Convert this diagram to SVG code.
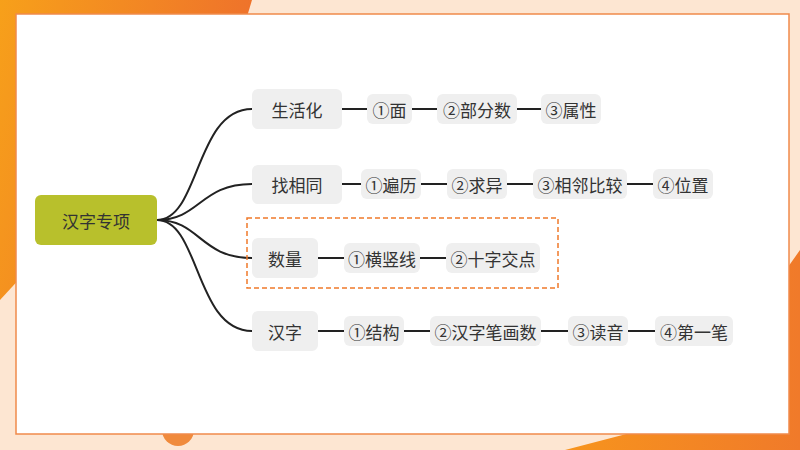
<svg xmlns="http://www.w3.org/2000/svg" width="800" height="450" viewBox="0 0 800 450">
<defs>
<linearGradient id="g1" x1="0" y1="0" x2="1" y2="0.3"><stop offset="0" stop-color="#f7a01a"/><stop offset="1" stop-color="#ee6f2c"/></linearGradient>
<linearGradient id="g2" x1="0" y1="0" x2="1" y2="0"><stop offset="0" stop-color="#f7941d"/><stop offset="1" stop-color="#f07a2a"/></linearGradient>
<style>
.n{fill:#efefef}
.t{font-family:"Noto Sans CJK SC","Noto Sans",sans-serif;font-size:17px;fill:#333;text-anchor:middle;dominant-baseline:central}
.c{fill:none;stroke:#222;stroke-width:2}
</style>
</defs>
<rect width="800" height="450" fill="#fde6d2"/>
<polygon points="0,0 252,0 240,40 0,300" fill="url(#g1)"/>
<polygon points="565,450 800,450 800,250 680,420" fill="url(#g2)"/>
<circle cx="178" cy="430" r="16" fill="#f08a3c"/>
<rect x="16" y="14" width="773" height="420" fill="#fff" stroke="#f08a4b" stroke-width="1.5"/>
<g id="connectors" class="c">
<path d="M157,220 C200,220 195,109 252,109"/>
<path d="M157,220 C200,220 200,184 252,184"/>
<path d="M157,220 C200,220 200,258 252,258"/>
<path d="M157,220 C200,220 195,331 252,331"/>
<path d="M342,109 H367 M412,109 H437 M517,109 H541"/>
<path d="M342,184 H361 M421,184 H447 M507,184 H533 M627,184 H653"/>
<path d="M318,258 H344 M420,258 H446"/>
<path d="M318,331 H344 M404,331 H430 M541,331 H568 M628,331 H655"/>
</g>
<rect x="247" y="218" width="311" height="70" fill="none" stroke="#f07a2a" stroke-width="1.5" stroke-dasharray="5,3"/>
<g id="root"><rect x="35" y="195" width="122" height="50" rx="6" fill="#b8c02c"/><text class="t" x="96" y="220">汉字专项</text></g>
<g id="b1"><rect class="n" x="252" y="89" width="90" height="40" rx="6"/><text class="t" x="297" y="109">生活化</text></g>
<g id="b2"><rect class="n" x="252" y="165" width="90" height="39" rx="6"/><text class="t" x="297" y="184">找相同</text></g>
<g id="b3"><rect class="n" x="252" y="238" width="66" height="40" rx="6"/><text class="t" x="285" y="258">数量</text></g>
<g id="b4"><rect class="n" x="252" y="311" width="66" height="40" rx="6"/><text class="t" x="285" y="331">汉字</text></g>
<g id="l11"><rect class="n" x="367" y="94" width="45" height="30" rx="6"/><text class="t" x="389.5" y="109">①面</text></g>
<g id="l12"><rect class="n" x="437" y="94" width="80" height="30" rx="6"/><text class="t" x="477" y="109">②部分数</text></g>
<g id="l13"><rect class="n" x="541" y="94" width="60" height="30" rx="6"/><text class="t" x="571" y="109">③属性</text></g>
<g id="l21"><rect class="n" x="361" y="169" width="60" height="30" rx="6"/><text class="t" x="391" y="184">①遍历</text></g>
<g id="l22"><rect class="n" x="447" y="169" width="60" height="30" rx="6"/><text class="t" x="477" y="184">②求异</text></g>
<g id="l23"><rect class="n" x="533" y="169" width="94" height="30" rx="6"/><text class="t" x="580" y="184">③相邻比较</text></g>
<g id="l24"><rect class="n" x="653" y="169" width="60" height="30" rx="6"/><text class="t" x="683" y="184">④位置</text></g>
<g id="l31"><rect class="n" x="344" y="243" width="76" height="30" rx="6"/><text class="t" x="382" y="258">①横竖线</text></g>
<g id="l32"><rect class="n" x="446" y="243" width="94" height="30" rx="6"/><text class="t" x="493" y="258">②十字交点</text></g>
<g id="l41"><rect class="n" x="344" y="316" width="60" height="30" rx="6"/><text class="t" x="374" y="331">①结构</text></g>
<g id="l42"><rect class="n" x="430" y="316" width="111" height="30" rx="6"/><text class="t" x="485.5" y="331">②汉字笔画数</text></g>
<g id="l43"><rect class="n" x="568" y="316" width="60" height="30" rx="6"/><text class="t" x="598" y="331">③读音</text></g>
<g id="l44"><rect class="n" x="655" y="316" width="78" height="30" rx="6"/><text class="t" x="694" y="331">④第一笔</text></g>
</svg>
